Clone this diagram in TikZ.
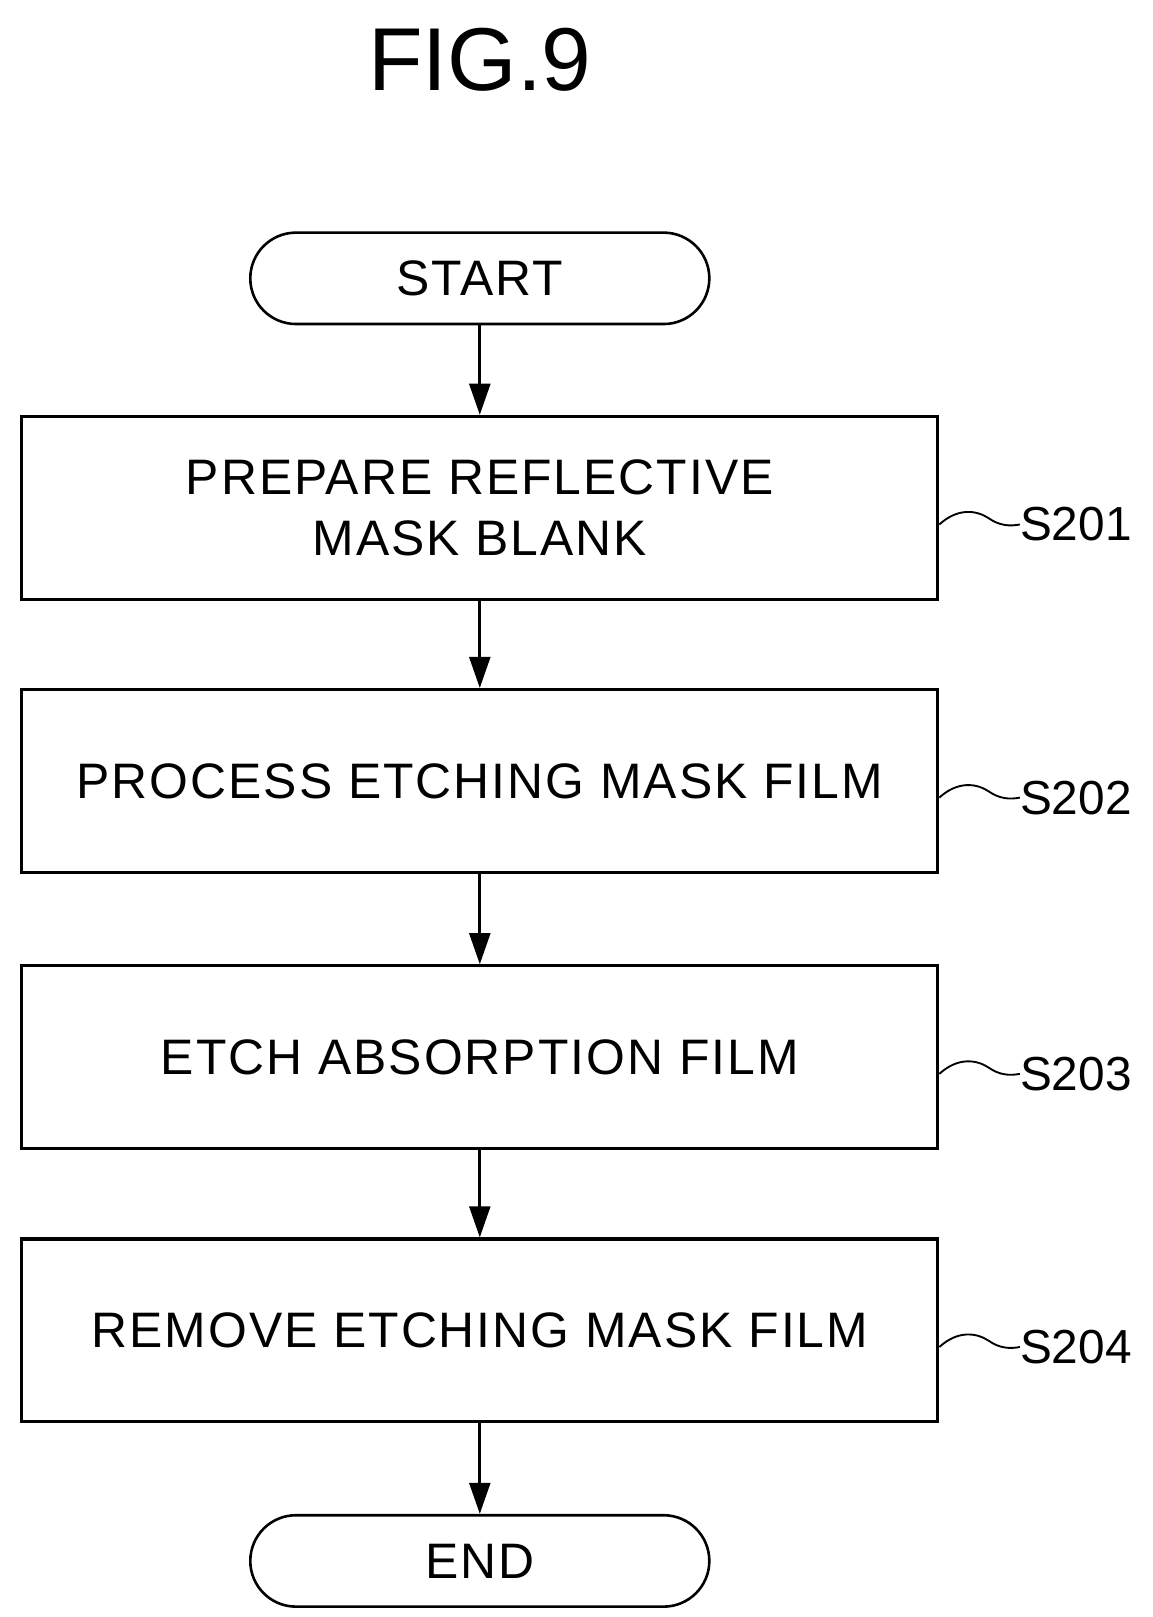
\documentclass[tikz,border=0pt]{standalone}
\usepackage{fontspec}
\setmainfont{Liberation Sans}
\usetikzlibrary{arrows.meta}
\begin{document}
\begin{tikzpicture}[x=1pt,y=-1pt,
  box/.style={draw,line width=3pt,minimum width=882pt,minimum height=176pt,inner sep=0pt,align=center,font=\fontsize{48}{58}\selectfont\addfontfeature{LetterSpace=4}},
  term/.style={draw,line width=2.5pt,rounded corners=44pt,minimum width=442pt,minimum height=88pt,inner sep=0pt,font=\fontsize{48}{58}\selectfont\addfontfeature{LetterSpace=4}},
  arr/.style={line width=3pt,-{Triangle[length=30pt,width=20pt]}},
  lab/.style={font=\fontsize{46}{56}\selectfont,anchor=west,inner sep=0pt},
  sq/.style={line width=1.8pt}]
\useasboundingbox (0,0) rectangle (1110,1557);
\node[font=\fontsize{86}{100}\selectfont] (title) at (462,58) {FIG.9};
\node[term] (start) at (462,268) {START};
\node[box] (b1) at (462,489) {PREPARE REFLECTIVE\\MASK BLANK};
\node[box] (b2) at (462,752) {PROCESS ETCHING MASK FILM};
\node[box] (b3) at (462,1018) {ETCH ABSORPTION FILM};
\node[box] (b4) at (462,1281) {REMOVE ETCHING MASK FILM};
\node[term] (end) at (462,1503) {END};
\draw[arr] (start) -- (b1);
\draw[arr] (b1) -- (b2);
\draw[arr] (b2) -- (b3);
\draw[arr] (b3) -- (b4);
\draw[arr] (b4) -- (end);
\foreach \b/\s/\y in {b1/S201/505,b2/S202/768,b3/S203/1034,b4/S204/1297}{
  \node[lab] (l\b) at (982,\y) {\s};
  \draw[sq] (\b.east |- 0,\y) .. controls (922,\y-16) and (940,\y-14) .. (952,\y-6) .. controls (962,\y+1) and (972,\y+2) .. (l\b.west);
}
\end{tikzpicture}
\end{document}
